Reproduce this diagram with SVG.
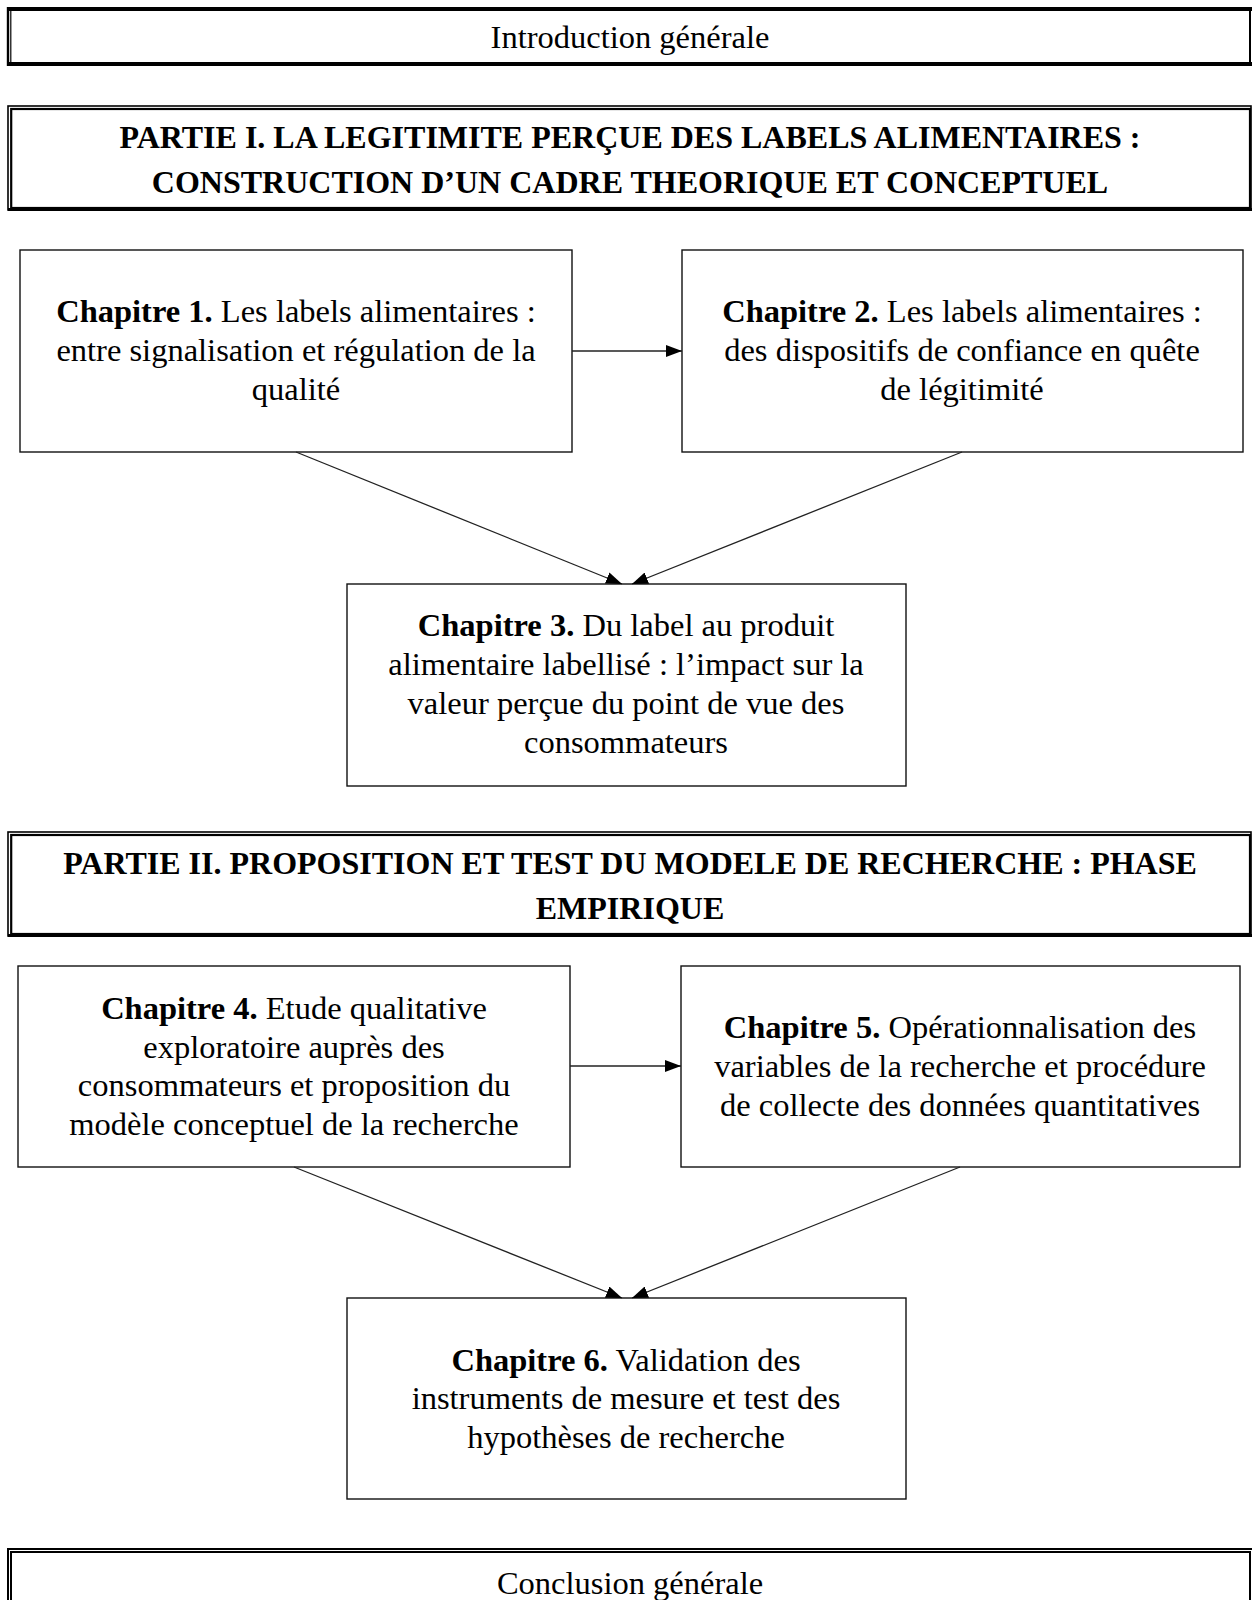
<svg xmlns="http://www.w3.org/2000/svg" width="1252" height="1600" viewBox="0 0 1252 1600">
<defs>
<style>
text{font-family:"Liberation Serif","DejaVu Serif",serif;fill:#000;text-anchor:middle}
.t{font-size:32.5px}
.h{font-size:32px;font-weight:bold}
.b{font-weight:bold}
.box{fill:#fff;stroke:#111;stroke-width:1.4}
.ln{stroke:#000;fill:none}
.con{stroke:#222;stroke-width:1.3;fill:none;marker-end:url(#ah)}
</style>
<marker id="ah" viewBox="0 0 16 12" refX="16" refY="6" markerWidth="16" markerHeight="12" markerUnits="userSpaceOnUse" orient="auto">
<path d="M0,0 L16,6 L0,12 Z" fill="#000"/>
</marker>
</defs>
<rect width="1252" height="1600" fill="#fff"/>

<g id="intro">
<line class="ln" x1="7" y1="9" x2="1252" y2="9" stroke-width="4"/>
<line class="ln" x1="7" y1="64" x2="1252" y2="64" stroke-width="4"/>
<line class="ln" x1="8" y1="7" x2="8" y2="66" stroke-width="2.4"/>
<line class="ln" x1="10.8" y1="9" x2="10.8" y2="64" stroke-width="1.2"/>
<line class="ln" x1="1250" y1="7" x2="1250" y2="66" stroke-width="2"/>
<text class="t" x="630" y="48">Introduction générale</text>
</g>

<g id="partie1">
<rect class="ln" x="8" y="106" width="1243" height="104" stroke-width="1.6"/>
<rect class="ln" x="11.2" y="109" width="1238.8" height="99" stroke-width="2.2"/>
<line class="ln" x1="8" y1="209.5" x2="1252" y2="209.5" stroke-width="3"/>
<text class="h" x="630" y="148">PARTIE I. LA LEGITIMITE PERÇUE DES LABELS ALIMENTAIRES :</text>
<text class="h" x="630" y="193">CONSTRUCTION D’UN CADRE THEORIQUE ET CONCEPTUEL</text>
</g>

<g id="ch1">
<rect class="box" x="20" y="250" width="552" height="202"/>
<text class="t" x="296" y="322"><tspan class="b">Chapitre 1.</tspan> Les labels alimentaires :</text>
<text class="t" x="296" y="361">entre signalisation et régulation de la</text>
<text class="t" x="296" y="400">qualité</text>
</g>

<g id="ch2">
<rect class="box" x="682" y="250" width="561" height="202"/>
<text class="t" x="962" y="322"><tspan class="b">Chapitre 2.</tspan> Les labels alimentaires :</text>
<text class="t" x="962" y="361">des dispositifs de confiance en quête</text>
<text class="t" x="962" y="400">de légitimité</text>
</g>

<g id="ch3">
<rect class="box" x="347" y="584" width="559" height="202"/>
<text class="t" x="626" y="636"><tspan class="b">Chapitre 3.</tspan> Du label au produit</text>
<text class="t" x="626" y="675">alimentaire labellisé : l’impact sur la</text>
<text class="t" x="626" y="714">valeur perçue du point de vue des</text>
<text class="t" x="626" y="753">consommateurs</text>
</g>

<g id="partie2">
<rect class="ln" x="8" y="832" width="1243" height="104" stroke-width="1.6"/>
<rect class="ln" x="11.2" y="835" width="1238.8" height="99" stroke-width="2.2"/>
<line class="ln" x1="8" y1="935.5" x2="1252" y2="935.5" stroke-width="3"/>
<text class="h" x="630" y="874">PARTIE II. PROPOSITION ET TEST DU MODELE DE RECHERCHE : PHASE</text>
<text class="h" x="630" y="919">EMPIRIQUE</text>
</g>

<g id="ch4">
<rect class="box" x="18" y="966" width="552" height="201"/>
<text class="t" x="294" y="1019"><tspan class="b">Chapitre 4.</tspan> Etude qualitative</text>
<text class="t" x="294" y="1058">exploratoire auprès des</text>
<text class="t" x="294" y="1096">consommateurs et proposition du</text>
<text class="t" x="294" y="1135">modèle conceptuel de la recherche</text>
</g>

<g id="ch5">
<rect class="box" x="681" y="966" width="559" height="201"/>
<text class="t" x="960" y="1038"><tspan class="b">Chapitre 5.</tspan> Opérationnalisation des</text>
<text class="t" x="960" y="1077">variables de la recherche et procédure</text>
<text class="t" x="960" y="1116">de collecte des données quantitatives</text>
</g>

<g id="ch6">
<rect class="box" x="347" y="1298" width="559" height="201"/>
<text class="t" x="626" y="1371"><tspan class="b">Chapitre 6.</tspan> Validation des</text>
<text class="t" x="626" y="1409">instruments de mesure et test des</text>
<text class="t" x="626" y="1448">hypothèses de recherche</text>
</g>

<g id="conclusion">
<path class="ln" d="M8,1600 V1549 H1252" stroke-width="2"/>
<path class="ln" d="M11,1600 V1552 H1250 V1600" stroke-width="2"/>
<text class="t" x="630" y="1594">Conclusion générale</text>
</g>

<g id="connectors">
<line class="con" x1="572" y1="351" x2="682" y2="351"/>
<line class="con" x1="296" y1="452" x2="622" y2="584"/>
<line class="con" x1="962" y1="452" x2="632" y2="584"/>
<line class="con" x1="570" y1="1066" x2="681" y2="1066"/>
<line class="con" x1="294" y1="1167" x2="622" y2="1298"/>
<line class="con" x1="960" y1="1167" x2="632" y2="1298"/>
</g>
</svg>
